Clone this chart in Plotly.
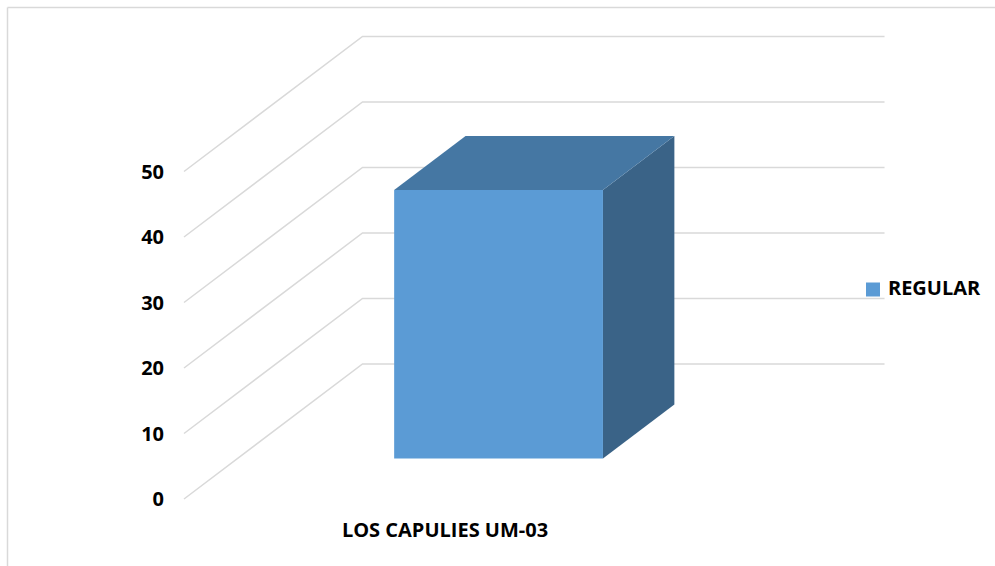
import plotly.graph_objects as go

# Data
categories = ["LOS CAPULIES UM-03"]
series_name = "REGULAR"
values = [41]
value_ticks = [0, 10, 20, 30, 40, 50]

# Oblique 3D projection: x in category units, depth in [0, 1], value on y
DEPTH_DX = 0.342   # horizontal shift (category units) for full depth
DEPTH_DY = 20.61   # vertical shift (value units) for full depth
BAR_W = 0.4        # bar width as a fraction of the category slot
BAR_D = 0.4        # bar depth as a fraction of the floor depth

FRONT = "#5B9BD5"
TOP = "rgb(69,119,163)"
SIDE = "rgb(58,99,135)"
GRID = "#D9D9D9"
FONT = dict(family="Open Sans", size=20, color="#000000", weight="bold")

W, H = 995, 566
ML, MB = 170, 58
PX_X = 522.0      # pixels per category unit
PX_V = 6.55       # pixels per value unit
X0_PX, V0_PX = 184.0, 499.0


def proj(x, d, v):
    return x + d * DEPTH_DX, v + d * DEPTH_DY


def poly(points):
    xs, ys = zip(*[proj(*p) for p in points])
    return list(xs) + [xs[0]], list(ys) + [ys[0]]


def px_to_data(px, py):
    return (px - X0_PX) / PX_X, (V0_PX - py) / PX_V


fig = go.Figure()

# Walls: value gridlines run along the side wall then across the back wall
n_cat = len(categories)
for t in value_ticks:
    pts = [proj(0, 0, t), proj(0, 1, t), proj(n_cat, 1, t)]
    fig.add_trace(go.Scatter(
        x=[p[0] for p in pts], y=[p[1] for p in pts], mode="lines",
        line=dict(color=GRID, width=1.5), hoverinfo="skip", showlegend=False))

# Bars
for i, (cat, v) in enumerate(zip(categories, values)):
    x0 = i + (1 - BAR_W) / 2
    x1 = x0 + BAR_W
    d0 = (1 - BAR_D) / 2
    d1 = d0 + BAR_D
    faces = [
        (SIDE, [(x1, d0, 0), (x1, d1, 0), (x1, d1, v), (x1, d0, v)]),
        (TOP, [(x0, d0, v), (x1, d0, v), (x1, d1, v), (x0, d1, v)]),
        (FRONT, [(x0, d0, 0), (x1, d0, 0), (x1, d0, v), (x0, d0, v)]),
    ]
    for color, pts in faces:
        xs, ys = poly(pts)
        fig.add_trace(go.Scatter(
            x=xs, y=ys, mode="lines", fill="toself", fillcolor=color,
            line=dict(width=0, color=color), hoverinfo="skip",
            showlegend=False))

# Legend key: swatch plus series name at the right of the plot
lx, ly = px_to_data(873, 289.5)
fig.add_trace(go.Scatter(
    x=[lx], y=[ly], mode="markers+text", text=[" " + series_name],
    textposition="middle right", textfont=FONT, cliponaxis=False,
    marker=dict(symbol="square", size=14, color=FRONT, line=dict(width=0)),
    hoverinfo="skip", showlegend=False))

x_range = [(ML - X0_PX) / PX_X, (W - X0_PX) / PX_X]
y_range = [(V0_PX - (H - MB)) / PX_V, V0_PX / PX_V]

plot_w = W - ML
plot_h = H - MB
bx = (7.5 - ML) / plot_w
by = (plot_h - 7.5) / plot_h

fig.update_layout(
    width=W, height=H,
    margin=dict(l=ML, r=0, t=0, b=MB, autoexpand=False),
    paper_bgcolor="white", plot_bgcolor="white",
    font=FONT,
    showlegend=False,
    xaxis=dict(range=x_range, showgrid=False, zeroline=False, showline=False,
               tickvals=[i + 0.5 for i in range(n_cat)], ticktext=categories,
               tickfont=FONT, ticks="", ticklabelstandoff=8, automargin=False),
    yaxis=dict(range=y_range, showgrid=False, zeroline=False, showline=False,
               tickvals=value_ticks, ticktext=[str(t) for t in value_ticks],
               tickfont=FONT, ticks="", ticklabelstandoff=5, automargin=False),
    shapes=[
        dict(type="line", xref="paper", yref="paper", x0=bx, x1=bx,
             y0=-0.2, y1=by, line=dict(color=GRID, width=1.5)),
        dict(type="line", xref="paper", yref="paper", x0=bx, x1=1.1,
             y0=by, y1=by, line=dict(color=GRID, width=1.5)),
    ],
)

fig.write_html("out.html")
